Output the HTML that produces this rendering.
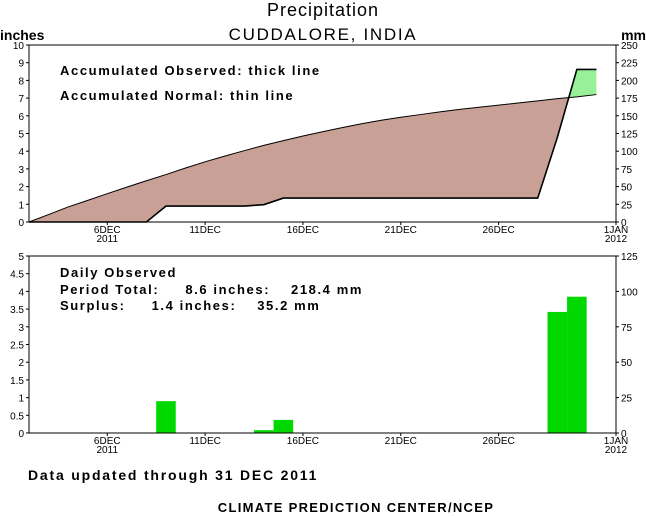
<!DOCTYPE html>
<html><head><meta charset="utf-8"><style>
body{margin:0;background:#fff;}
svg{display:block;font-family:"Liberation Sans",sans-serif;}
.t{font-size:10px;fill:#000;}
.b{font-size:13px;font-weight:bold;fill:#000;letter-spacing:1.6px;}
</style></head><body>
<svg id="c" width="646" height="518" viewBox="0 0 646 518">
<text x="323" y="16" text-anchor="middle" font-size="18" letter-spacing="1">Precipitation</text>
<text x="323" y="40" text-anchor="middle" font-size="17" letter-spacing="1.7">CUDDALORE, INDIA</text>
<text x="0" y="40" font-weight="bold" font-size="14">inches</text>
<text x="646" y="40" font-weight="bold" text-anchor="end" font-size="14">mm</text>
<text x="60" y="75" class="b">Accumulated Observed: thick line</text>
<text x="60" y="100" class="b">Accumulated Normal: thin line</text>
<text x="60" y="277" class="b">Daily Observed</text>
<text x="60" y="294" class="b" xml:space="preserve">Period Total:     8.6 inches:    218.4 mm</text>
<text x="60" y="310" class="b" xml:space="preserve">Surplus:     1.4 inches:    35.2 mm</text>
<text x="28" y="480" font-size="14" font-weight="bold" letter-spacing="1.8">Data updated through 31 DEC 2011</text>
<text x="356" y="512" text-anchor="middle" font-size="13" font-weight="bold" letter-spacing="1.3">CLIMATE PREDICTION CENTER/NCEP</text>
<g id="top"></g><g id="bot"></g>
</svg>
<script>
const dateLabels=["6DEC","11DEC","16DEC","21DEC","26DEC","1JAN"];
const dateYears=["2011","","","","","2012"];
const dateDays=[4,9,14,19,24,30];
const normalAcc=[0,0.42,0.85,1.22,1.6,1.97,2.33,2.68,3.05,3.4,3.72,4.03,4.33,4.6,4.86,5.1,5.33,5.55,5.75,5.92,6.07,6.22,6.36,6.48,6.6,6.72,6.84,6.97,7.07,7.2];
const observedAcc=[0,0,0,0,0,0,0,0.9,0.9,0.9,0.9,0.9,0.98,1.35,1.35,1.35,1.35,1.35,1.35,1.35,1.35,1.35,1.35,1.35,1.35,1.35,1.35,4.77,8.62,8.62];
const barDays=[7,12,13,27,28];
const barValues=[0.9,0.08,0.37,3.42,3.85];
const topTicks=[0,1,2,3,4,5,6,7,8,9,10];
const topMm=[0,25,50,75,100,125,150,175,200,225,250];
const botTicks=[0,0.5,1,1.5,2,2.5,3,3.5,4,4.5,5];
const botMm=[0,25,50,75,100,125];
const NS="http://www.w3.org/2000/svg";
const X0=29,X1=616,D=30;
const x=d=>X0+(X1-X0)*d/D;
function mk(p,tag,a){const e=document.createElementNS(NS,tag);for(const k in a)e.setAttribute(k,a[k]);p.appendChild(e);return e;}
function axes(g,yT,yB,max,ticks,mm,mmMax,pfx){
  mk(g,'rect',{x:X0,y:yT,width:X1-X0,height:yB-yT,fill:'none',stroke:'#000','stroke-width':1});
  const y=v=>yB-(yB-yT)*v/max;
  ticks.forEach(v=>{const t=mk(g,'text',{x:X0-5,y:y(v)+4,'text-anchor':'end',class:'t'});t.textContent=v;
    
    
    mk(g,'line',{x1:X0-3,x2:X0,y1:y(v),y2:y(v),stroke:'#000'});});
  mm.forEach(v=>{const yy=yB-(yB-yT)*v/mmMax;const t=mk(g,'text',{x:X1+5,y:yy+4,class:'t'});t.textContent=v;
    
    
    mk(g,'line',{x1:X1,x2:X1+3,y1:yy,y2:yy,stroke:'#000'});});
  dateDays.forEach((d,i)=>{const t=mk(g,'text',{x:x(d),y:yB+11,'text-anchor':'middle',class:'t','font-size':'9'});t.textContent=dateLabels[i];
    
    
    if(dateYears[i]){const t2=mk(g,'text',{x:x(d),y:yB+20,'text-anchor':'middle',class:'t','font-size':'9'});t2.textContent=dateYears[i];
    
    }
    mk(g,'line',{x1:x(d),x2:x(d),y1:yB,y2:yB+3,stroke:'#000'});});
  return y;
}
const gt=document.getElementById('top');
const yT0=45,yT1=222;
const yt=v=>yT1-(yT1-yT0)*v/10;
const n=normalAcc.length;
const pts=a=>a.map((v,i)=>x(i)+','+yt(v)).join(' ');
const under=a=>'M'+x(0)+','+yT1+' L'+pts(a)+' L'+x(n-1)+','+yT1+'Z';
const above=a=>'M'+x(0)+','+yT0+' L'+pts(a)+' L'+x(n-1)+','+yT0+'Z';
const defs=mk(gt,'defs',{});
mk(mk(defs,'clipPath',{id:'aboveObs'}),'path',{d:above(observedAcc)});
mk(mk(defs,'clipPath',{id:'aboveNorm'}),'path',{d:above(normalAcc)});
const deficit=mk(gt,'path',{d:under(normalAcc),fill:'#c8a096','clip-path':'url(#aboveObs)'});


const surplus=mk(gt,'path',{d:under(observedAcc),fill:'#98f098','clip-path':'url(#aboveNorm)'});


const nl=mk(gt,'polyline',{points:pts(normalAcc),fill:'none',stroke:'#000','stroke-width':1});


const ol=mk(gt,'polyline',{points:pts(observedAcc),fill:'none',stroke:'#000','stroke-width':1.6});


axes(gt,yT0,yT1,10,topTicks,topMm,250,'top');
const gb=document.getElementById('bot');
const yB0=256,yB1=433;
const yb=v=>yB1-(yB1-yB0)*v/5;
barValues.forEach((v,i)=>{const r=mk(gb,'rect',{x:x(barDays[i]-0.5),y:yb(v),width:x(1)-x(0),height:yB1-yb(v),fill:'#00d800'});
  
  });
axes(gb,yB0,yB1,5,botTicks,botMm,125,'bottom');
</script>
</body></html>
